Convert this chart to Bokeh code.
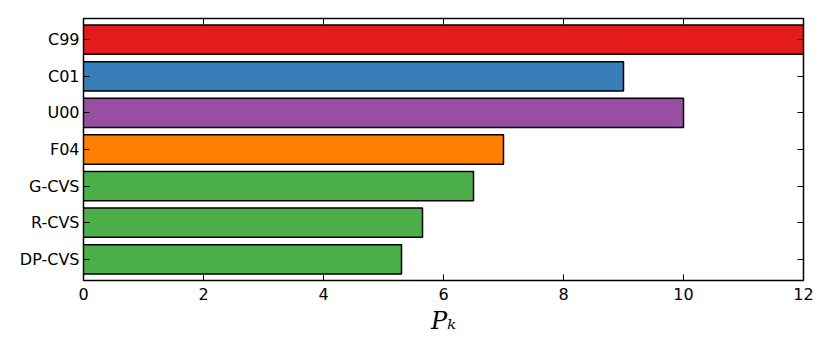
from bokeh.plotting import figure
from bokeh.models import Range1d, FixedTicker, LinearAxis
from bokeh.embed import file_html
from bokeh.resources import INLINE

categories = ["DP-CVS", "R-CVS", "G-CVS", "F04", "U00", "C01", "C99"]
values = [5.3, 5.65, 6.5, 7.0, 10.0, 9.0, 12.0]
colors = ["#4daf4a", "#4daf4a", "#4daf4a", "#ff7f00", "#984ea3", "#377eb8", "#e41a1c"]
x_ticks = [0, 2, 4, 6, 8, 10, 12]

positions = list(range(len(categories)))

p = figure(width=822, height=348, output_backend="svg", toolbar_location=None,
           x_range=Range1d(0, 12), y_range=Range1d(-0.58, 6.58),
           min_border_left=83, min_border_top=18, min_border_right=19, min_border_bottom=68,
           x_axis_location=None, y_axis_location=None)

p.hbar(y=positions, left=0, right=values, height=0.8, fill_color=colors,
       line_color="black", line_width=1.5)

p.grid.visible = False
p.outline_line_color = "black"
p.outline_line_width = 1.5
p.background_fill_color = "white"
p.border_fill_color = "white"

def style(ax, show_labels, ticks):
    ax.axis_line_color = None
    ax.major_tick_in = 6
    ax.major_tick_out = 0
    ax.minor_tick_line_color = None
    ax.major_tick_line_color = "black"
    ax.major_tick_line_width = 1
    ax.major_label_text_font = "DejaVu Sans"
    ax.major_label_text_font_size = "16px"
    ax.major_label_text_color = "black"
    if not show_labels:
        ax.major_label_overrides = {t: "" for t in ticks}
        ax.major_label_standoff = 0

bottom = LinearAxis(ticker=FixedTicker(ticks=x_ticks))
style(bottom, True, x_ticks)
bottom.major_label_standoff = 7
bottom.axis_label = "Pₖ"
bottom.axis_label_text_font = "DejaVu Serif"
bottom.axis_label_text_font_style = "italic"
bottom.axis_label_text_font_size = "24px"
bottom.axis_label_text_color = "black"
bottom.axis_label_standoff = 4
p.add_layout(bottom, "below")

top = LinearAxis(ticker=FixedTicker(ticks=x_ticks))
style(top, False, x_ticks)
p.add_layout(top, "above")

left = LinearAxis(ticker=FixedTicker(ticks=positions))
style(left, True, positions)
left.major_label_overrides = {i: c for i, c in enumerate(categories)}
left.major_label_standoff = 4
p.add_layout(left, "left")

right = LinearAxis(ticker=FixedTicker(ticks=positions))
style(right, False, positions)
p.add_layout(right, "right")

open("out.html", "w").write(file_html(p, INLINE))
